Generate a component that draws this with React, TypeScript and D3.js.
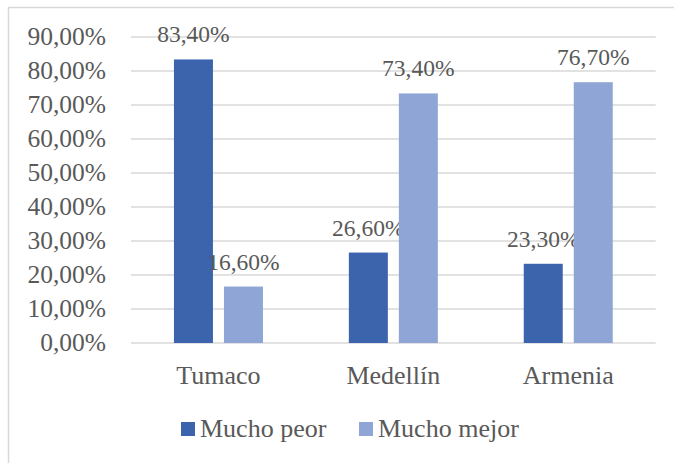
import React from "react";
import * as d3 from "d3";

const categories = ["Tumaco", "Medellín", "Armenia"];
const seriesNames = ["Mucho peor", "Mucho mejor"];
const muchoPeor = [83.4, 26.6, 23.3];
const muchoMejor = [16.6, 73.4, 76.7];
const yTicks = [0, 10, 20, 30, 40, 50, 60, 70, 80, 90];

const colors = ["#3B64AD", "#8FA5D5"];
const textColor = "#595959";
const fontFamily = '"Liberation Serif", "Times New Roman", Times, "DejaVu Serif", serif';

const fmt = (v: number) => v.toFixed(2).replace(".", ",") + "%";

export default function App() {
  const W = 674;
  const H = 463;
  const plotLeft = 131;
  const plotRight = 655.7;
  const y = d3.scaleLinear().domain([0, 90]).range([343, 37]);
  const x0 = d3.scaleBand<string>().domain(categories).range([plotLeft, plotRight]).padding(0);
  const groupW = 89;
  const x1 = d3.scaleBand<string>().domain(seriesNames).range([0, groupW]).paddingInner(0.22);
  const values = [muchoPeor, muchoMejor];
  const ts = { fontFamily };

  return (
    <svg width={W} height={H} style={{ position: "absolute", left: 0, top: 0, fontFamily }}>
      <rect x={0} y={0} width={W} height={H} fill="#fff" />
      <rect x={8.5} y={7.5} width={W + 10} height={H + 10} fill="none" stroke="#d9d9d9" strokeWidth={1.5} />
      {yTicks.map((t) => (
        <g key={t}>
          <line x1={plotLeft} x2={plotRight} y1={y(t)} y2={y(t)} stroke="#d9d9d9" strokeWidth={1.5} />
          <text x={106} y={y(t)} dy="0.33em" textAnchor="end" fontSize={25.5} fill={textColor} style={ts}>
            {fmt(t)}
          </text>
        </g>
      ))}
      {categories.map((c, i) => {
        const cx = (x0(c) as number) + x0.bandwidth() / 2;
        const gx = cx - groupW / 2;
        return (
          <g key={c}>
            {seriesNames.map((s, j) => {
              const v = values[j][i];
              const bx = gx + (x1(s) as number);
              return (
                <g key={s}>
                  <rect x={bx} y={y(v)} width={x1.bandwidth()} height={y(0) - y(v)} fill={colors[j]} />
                  <text x={bx + x1.bandwidth() / 2} y={y(v) - 17} textAnchor="middle" fontSize={23.5} fill={textColor} style={ts}>
                    {fmt(v)}
                  </text>
                </g>
              );
            })}
            <text x={cx} y={384} textAnchor="middle" fontSize={26} fill={textColor} style={ts}>
              {c}
            </text>
          </g>
        );
      })}
      {seriesNames.map((s, j) => {
        const lx = [181, 359][j];
        return (
          <g key={s}>
            <rect x={lx} y={422} width={14} height={14} fill={colors[j]} />
            <text x={lx + 19} y={436.5} fontSize={26} fill={textColor} style={ts}>
              {s}
            </text>
          </g>
        );
      })}
    </svg>
  );
}
